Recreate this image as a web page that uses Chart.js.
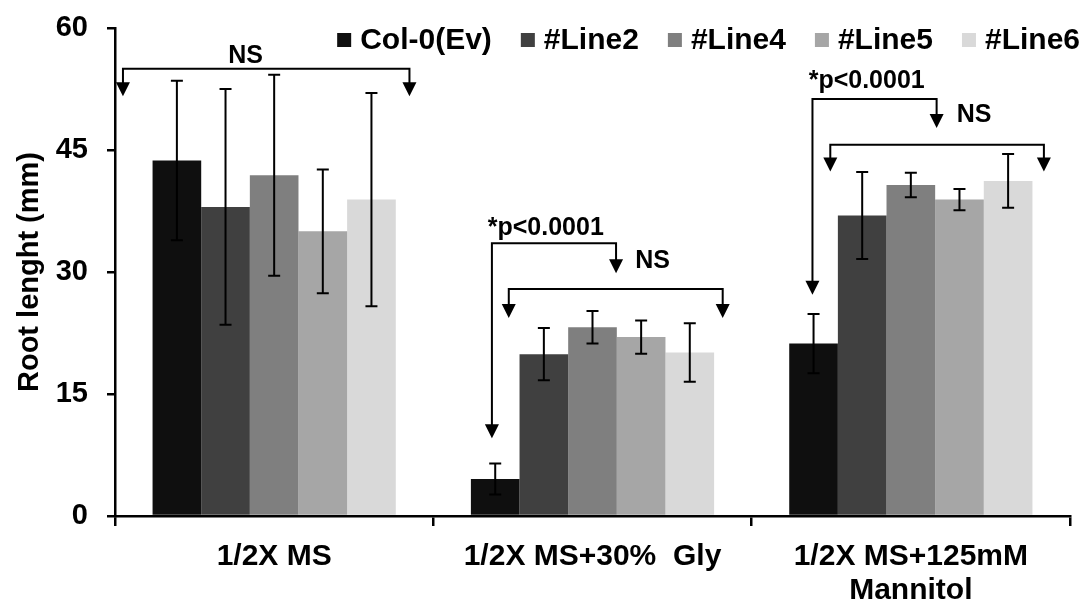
<!DOCTYPE html>
<html><head><meta charset="utf-8">
<script src="https://cdn.jsdelivr.net/npm/chart.js@4"></script>
<style>html,body{margin:0;padding:0;background:#fff}</style>
</head><body>
<canvas id="c" width="1092" height="604"></canvas>
<script>
// ---- data ----
const categories = [['1/2X MS'], ['1/2X MS+30%  Gly'], ['1/2X MS+125mM', 'Mannitol']];
const seriesNames = ['Col-0(Ev)', '#Line2', '#Line4', '#Line5', '#Line6'];
const col0  = [43.7, 4.55, 21.2];
const line2 = [38.0, 19.9, 36.95];
const line4 = [41.9, 23.2, 40.7];
const line5 = [35.0, 22.0, 38.9];
const line6 = [38.9, 20.1, 41.2];
const col0Err  = [9.8, 1.9, 3.65];
const line2Err = [14.5, 3.2, 5.35];
const line4Err = [12.35, 2.0, 1.5];
const line5Err = [7.6, 2.05, 1.3];
const line6Err = [13.1, 3.6, 3.3];
const yTicks = [0, 15, 30, 45, 60];
// significance annotations (category units on x, data units on y)
const nsBrackets = [[-0.475, 0.425, 55.0, 51.6], [0.737, 1.409, 27.9, 24.33], [1.747, 2.418, 45.64, 42.36]];
const pBrackets = [[0.684, 1.074, 33.55, 9.56, 29.86], [1.691, 2.081, 51.27, 27.19, 47.7]];
const annoTexts = [['NS', -0.09, 56.6, 'center'], ['*p<0.0001', 0.671, 35.43, 'left'], ['NS', 1.134, 31.37, 'left'],
                   ['*p<0.0001', 1.679, 53.43, 'left'], ['NS', 2.144, 49.34, 'left']];

const values = [col0, line2, line4, line5, line6];
const errors = [col0Err, line2Err, line4Err, line5Err, line6Err];
const colors = ['#0f0f0f', '#404040', '#7f7f7f', '#a6a6a6', '#d9d9d9'];
const FAM = '"Liberation Sans", Arial, sans-serif';

const errPlugin = {
  id: 'errbars',
  afterDatasetsDraw(chart) {
    const ctx = chart.ctx, ys = chart.scales.y, xs = chart.scales.x;
    ctx.save();
    ctx.strokeStyle = '#000'; ctx.lineWidth = 2;
    chart.data.datasets.forEach((ds, i) => {
      const meta = chart.getDatasetMeta(i);
      meta.data.forEach((bar, j) => {
        const v = ds.data[j], e = errors[i][j];
        const t = ys.getPixelForValue(v + e), b = ys.getPixelForValue(v - e);
        ctx.beginPath();
        ctx.moveTo(bar.x, t); ctx.lineTo(bar.x, b);
        ctx.moveTo(bar.x - 6, t); ctx.lineTo(bar.x + 6, t);
        ctx.moveTo(bar.x - 6, b); ctx.lineTo(bar.x + 6, b);
        ctx.stroke();
      });
    });
    // annotations
    const cw = (xs.right - xs.left) / categories.length;
    const px = v => xs.left + (v + 0.5) * cw;
    const py = v => ys.getPixelForValue(v);
    const arrow = (x, tipY) => {
      ctx.beginPath();
      ctx.moveTo(x - 7, tipY - 14); ctx.lineTo(x + 7, tipY - 14); ctx.lineTo(x, tipY); ctx.closePath();
      ctx.fill();
    };
    ctx.fillStyle = '#000';
    nsBrackets.forEach(([x1, x2, yl, yt]) => {
      const a = px(x1), b = px(x2), l = py(yl), t = py(yt);
      ctx.beginPath();
      ctx.moveTo(a, t - 13); ctx.lineTo(a, l); ctx.lineTo(b, l); ctx.lineTo(b, t - 13);
      ctx.stroke();
      arrow(a, t); arrow(b, t);
    });
    pBrackets.forEach(([x1, x2, yl, yt1, yt2]) => {
      const a = px(x1), b = px(x2), l = py(yl), t1 = py(yt1), t2 = py(yt2);
      ctx.beginPath();
      ctx.moveTo(a, t1 - 13); ctx.lineTo(a, l); ctx.lineTo(b, l); ctx.lineTo(b, t2 - 13);
      ctx.stroke();
      arrow(a, t1); arrow(b, t2);
    });
    ctx.font = 'bold 25px ' + FAM;
    ctx.textBaseline = 'middle';
    annoTexts.forEach(([txt, x, y, al]) => {
      ctx.textAlign = al;
      ctx.fillText(txt, px(x), py(y));
    });
    ctx.restore();
  }
};

const legendPlugin = {
  id: 'customLegend',
  afterDraw(chart) {
    const ctx = chart.ctx;
    ctx.save();
    ctx.font = 'bold 30px ' + FAM;
    ctx.textBaseline = 'middle'; ctx.textAlign = 'left';
    const box = 14, gap = 9, spacing = 29, right = 1080, cy = 40;
    const ds = chart.data.datasets;
    const widths = ds.map(d => ctx.measureText(d.label).width);
    let total = widths.reduce((s, w) => s + w + box + gap, 0) + spacing * (ds.length - 1);
    let x = right - total;
    ds.forEach((d, i) => {
      ctx.fillStyle = d.backgroundColor;
      ctx.fillRect(x, cy - box / 2, box, box);
      ctx.fillStyle = '#000';
      ctx.fillText(d.label, x + box + gap, cy + 1);
      x += box + gap + widths[i] + spacing;
    });
    ctx.restore();
  }
};

new Chart(document.getElementById('c'), {
  type: 'bar',
  data: {
    labels: categories,
    datasets: seriesNames.map((n, i) => ({
      label: n, data: values[i], backgroundColor: colors[i], borderWidth: 0,
      categoryPercentage: 0.764, barPercentage: 1.0
    }))
  },
  options: {
    responsive: false, animation: false, devicePixelRatio: 1,
    layout: { padding: { top: 28, right: 22, left: 0, bottom: 0 } },
    plugins: { legend: { display: false }, tooltip: { enabled: false } },
    scales: {
      x: {
        grid: { display: true, drawOnChartArea: false, drawTicks: true, tickLength: 10, color: '#000', lineWidth: 2.5, offset: true },
        border: { display: true, color: '#000', width: 2.5 },
        ticks: { color: '#000', font: { family: FAM, size: 30, weight: 'bold', lineHeight: 1.12 }, padding: 14, maxRotation: 0, autoSkip: false },
        afterFit: s => { s.height = 88; }
      },
      y: {
        min: 0, max: 60,
        afterBuildTicks: s => { s.ticks = yTicks.map(v => ({ value: v })); },
        grid: { display: true, drawOnChartArea: false, drawTicks: true, tickLength: 8, color: '#000', lineWidth: 2.5 },
        border: { display: true, color: '#000', width: 2.5 },
        ticks: { color: '#000', font: { family: FAM, size: 29, weight: 'bold' }, padding: 19 },
        title: { display: true, text: 'Root lenght (mm)', color: '#000', font: { family: FAM, size: 29, weight: 'bold' }, padding: { top: 13 } },
        afterFit: s => { s.width = 115; s.paddingTop = 10; s.paddingBottom = 10; }
      }
    }
  },
  plugins: [errPlugin, legendPlugin]
});
</script>
</body></html>
